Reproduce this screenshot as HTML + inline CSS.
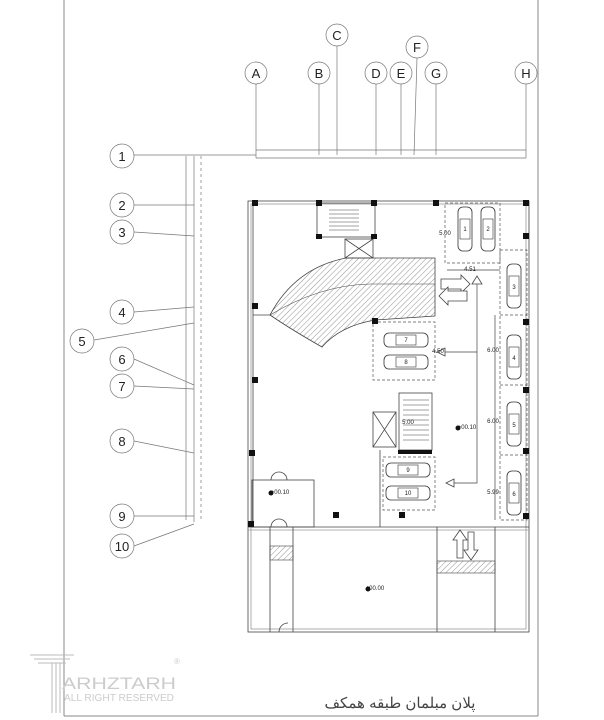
<!DOCTYPE html>
<html><head><meta charset="utf-8"><style>
html,body{margin:0;padding:0;background:#fff;}
svg{display:block;}
text{font-family:"Liberation Sans",sans-serif;}
</style></head><body>
<svg width="604" height="720" viewBox="0 0 604 720" xmlns="http://www.w3.org/2000/svg">
<defs>
<pattern id="h" width="4" height="4" patternUnits="userSpaceOnUse" patternTransform="rotate(45)">
<line x1="0" y1="0" x2="0" y2="4" stroke="#666" stroke-width="0.7"/></pattern>
<g id="carV"><rect x="-7" y="-22" width="14" height="44" rx="5" fill="#fff" stroke="#333" stroke-width="0.8"/><rect x="-5" y="-10" width="10" height="20" fill="none" stroke="#333" stroke-width="0.6"/></g>
<g id="carH"><rect x="-22" y="-7" width="44" height="14" rx="5" fill="#fff" stroke="#333" stroke-width="0.8"/><rect x="-10" y="-5" width="20" height="10" fill="none" stroke="#333" stroke-width="0.6"/></g>
</defs>
<g fill="none" stroke="#888" stroke-width="1">
<line x1="64" y1="0" x2="64" y2="716"/><line x1="538" y1="0" x2="538" y2="716"/><line x1="64" y1="716" x2="538" y2="716"/>
</g>
<g stroke="#777" stroke-width="0.7" fill="#fff">
<line x1="256" y1="84" x2="256" y2="158"/><line x1="319" y1="84" x2="319" y2="155"/><line x1="337" y1="46" x2="337" y2="155"/>
<line x1="376" y1="84" x2="376" y2="155"/><line x1="401" y1="84" x2="401" y2="155"/><line x1="417" y1="58" x2="414" y2="155"/>
<line x1="436" y1="84" x2="436" y2="155"/><line x1="526" y1="84" x2="526" y2="158"/>
<line x1="256" y1="150" x2="526" y2="150"/><line x1="256" y1="158" x2="526" y2="158"/>
<line x1="134" y1="155" x2="256" y2="155"/>
<circle cx="256" cy="73" r="11"/><circle cx="319" cy="73" r="11"/><circle cx="337" cy="35" r="11"/><circle cx="376" cy="73" r="11"/><circle cx="401" cy="73" r="11"/><circle cx="417" cy="47" r="11"/><circle cx="436" cy="73" r="11"/><circle cx="526" cy="73" r="11"/>
</g>
<g font-size="13" text-anchor="middle" fill="#222">
<text x="256" y="78">A</text><text x="319" y="78">B</text><text x="337" y="40">C</text><text x="376" y="78">D</text><text x="401" y="78">E</text><text x="417" y="52">F</text><text x="436" y="78">G</text><text x="526" y="78">H</text>
</g>
<g stroke="#777" stroke-width="0.7" fill="#fff">
<line x1="186" y1="156" x2="186" y2="520"/><line x1="194" y1="156" x2="194" y2="522"/><line x1="201" y1="156" x2="201" y2="522" stroke-dasharray="3,3"/>
<line x1="134" y1="205" x2="194" y2="205"/><line x1="134" y1="232" x2="194" y2="236"/><line x1="134" y1="312" x2="194" y2="307"/>
<line x1="94" y1="340" x2="194" y2="323"/><line x1="134" y1="359" x2="194" y2="385"/><line x1="134" y1="386" x2="194" y2="389"/>
<line x1="134" y1="441" x2="194" y2="453"/><line x1="134" y1="516" x2="194" y2="516"/><line x1="134" y1="546" x2="194" y2="524"/>
<circle cx="122" cy="156" r="12"/><circle cx="122" cy="205" r="12"/><circle cx="122" cy="232" r="12"/><circle cx="122" cy="312" r="12"/><circle cx="82" cy="341" r="12"/><circle cx="122" cy="359" r="12"/><circle cx="122" cy="386" r="12"/><circle cx="122" cy="441" r="12"/><circle cx="122" cy="516" r="12"/><circle cx="122" cy="546" r="12"/>
</g>
<g font-size="13" text-anchor="middle" fill="#222">
<text x="122" y="161">1</text><text x="122" y="210">2</text><text x="122" y="237">3</text><text x="122" y="317">4</text><text x="82" y="346">5</text><text x="122" y="364">6</text><text x="122" y="391">7</text><text x="122" y="446">8</text><text x="122" y="521">9</text><text x="122" y="551">10</text>
</g>
<g fill="none" stroke="#444" stroke-width="0.8">
<rect x="248" y="201" width="281" height="431"/>
<rect x="251" y="204" width="275" height="425" stroke="#999"/>
<line x1="253" y1="204" x2="253" y2="527"/>
<line x1="248" y1="527" x2="529" y2="527"/><line x1="248" y1="530" x2="529" y2="530" stroke="#999"/>
<line x1="270" y1="527" x2="270" y2="632"/><line x1="293" y1="527" x2="293" y2="632"/>
<line x1="437" y1="527" x2="437" y2="632"/><line x1="495" y1="527" x2="495" y2="632"/>
<rect x="317" y="203" width="58" height="34"/>
<rect x="345" y="239" width="28" height="19"/>
<line x1="345" y1="239" x2="373" y2="258"/><line x1="373" y1="239" x2="345" y2="258"/>
<rect x="252" y="480" width="62" height="47"/>
<path d="M271 480a8 8 0 0 1 8 -8M287 480a8 8 0 0 0 -8 -8M271 527a8 8 0 0 1 8 -8M287 527a8 8 0 0 0 -8 -8M279 632a9 9 0 0 1 9 -9"/>
<rect x="373" y="412" width="23" height="35"/><line x1="373" y1="412" x2="396" y2="447"/><line x1="396" y1="412" x2="373" y2="447"/>
<rect x="399" y="393" width="33" height="57"/>
<line x1="380" y1="450" x2="380" y2="527"/>
<line x1="253" y1="315" x2="270" y2="315"/>
</g>
<g stroke="#444" stroke-width="0.6">
<path d="M329 210h30M329 214h30M329 218h30M329 222h30M329 226h30M329 230h30"/>
<path d="M403 400h26M403 405h26M403 410h26M403 415h26M403 420h26M403 425h26M403 430h26M403 435h26M403 440h26"/>
</g>
<rect x="398" y="450" width="34" height="4" fill="#111"/>
<path d="M346 258 L435 258 L435 316 L375 320 Q340 326 322 347 Q292 330 270 315 Q295 268 346 258 Z" fill="url(#h)" stroke="#444" stroke-width="0.8"/>
<path d="M270 315 Q320 285 370 284 L435 284" fill="none" stroke="#444" stroke-width="0.6"/>
<rect x="270" y="546" width="23" height="14" fill="url(#h)" stroke="#444" stroke-width="0.6"/>
<rect x="437" y="561" width="58" height="12" fill="url(#h)" stroke="#444" stroke-width="0.6"/>
<g fill="#fff" stroke="#444" stroke-width="0.8">
<path d="M441 279h20v-4l9 9l-9 9v-4h-20z"/>
<path d="M467 291h-19v-4l-9 9l9 9v-4h19z"/>
<path d="M457 558v-18h-4l7-10l7 10h-4v18z"/>
<path d="M468 532v18h-4l7 10l7-10h-4v-18z"/>
<path d="M472 284l5-8l5 8z"/>
<path d="M437 352l8-4v8z"/><path d="M446 483l8-4v8z"/>
</g>
<g stroke="#444" stroke-width="0.7" fill="none">
<path d="M477 284V415"/><path d="M445 352h32"/><path d="M477 415V483h-23"/>
<line x1="447" y1="270" x2="500" y2="270"/>
<line x1="495" y1="315" x2="495" y2="520"/>
</g>
<g fill="none" stroke="#555" stroke-width="0.7" stroke-dasharray="3,2">
<rect x="445" y="203" width="55" height="60"/>
<rect x="500" y="250" width="27" height="270"/>
<line x1="500" y1="315" x2="527" y2="315"/><line x1="500" y1="385" x2="527" y2="385"/><line x1="500" y1="455" x2="527" y2="455"/>
<rect x="373" y="322" width="62" height="58"/>
<rect x="383" y="457" width="52" height="53"/>
</g>
<use href="#carV" x="465" y="229"/><use href="#carV" x="488" y="229"/>
<use href="#carV" x="514" y="286"/><use href="#carV" x="514" y="357"/><use href="#carV" x="514" y="424"/><use href="#carV" x="514" y="493"/>
<use href="#carH" x="406" y="340"/><use href="#carH" x="406" y="362"/>
<use href="#carH" x="408" y="470"/><use href="#carH" x="408" y="493"/>
<g font-size="6" text-anchor="middle" fill="#222">
<text x="465" y="231">1</text><text x="488" y="231">2</text><text x="514" y="289">3</text><text x="514" y="360">4</text><text x="514" y="427">5</text><text x="514" y="496">6</text>
<text x="406" y="342">7</text><text x="406" y="364">8</text><text x="408" y="472">9</text><text x="408" y="495">10</text>
<text x="445" y="235">5.00</text><text x="470" y="271">4.51</text><text x="438" y="353">4.50</text>
<text x="493" y="352">6.00</text><text x="493" y="423">6.00</text><text x="493" y="494">5.99</text><text x="408" y="424">5.00</text>
<text x="467" y="429">+00.10</text><text x="280" y="494">+00.10</text><text x="375" y="590">±00.00</text>
</g>
<g fill="#111"><circle cx="458" cy="428" r="2.5"/><circle cx="271" cy="493" r="2.5"/><circle cx="368" cy="589" r="2.5"/></g>
<g fill="#111">
<rect x="252" y="200" width="6" height="6"/><rect x="316" y="200" width="6" height="6"/><rect x="371" y="200" width="6" height="6"/><rect x="433" y="200" width="6" height="6"/><rect x="523" y="200" width="6" height="6"/>
<rect x="316" y="234" width="6" height="5"/><rect x="371" y="234" width="6" height="5"/><rect x="523" y="233" width="6" height="6"/>
<rect x="252" y="303" width="6" height="6"/><rect x="372" y="318" width="6" height="6"/><rect x="523" y="319" width="6" height="6"/>
<rect x="252" y="377" width="6" height="6"/><rect x="523" y="387" width="6" height="6"/>
<rect x="249" y="450" width="6" height="6"/><rect x="523" y="448" width="6" height="6"/>
<rect x="248" y="521" width="6" height="6"/><rect x="333" y="512" width="6" height="6"/><rect x="399" y="512" width="6" height="6"/><rect x="523" y="513" width="6" height="6"/>
</g>
<g stroke="#bbb" fill="none" stroke-width="1">
<path d="M30 655h44M34 659h36M38 663h28"/><path d="M52 663v50M56 663v50M60 663v50"/>
</g>
<text x="62" y="689" font-size="17" fill="#ccc" textLength="114" lengthAdjust="spacingAndGlyphs">ARHZTARH</text>
<text x="64" y="701" font-size="10" fill="#ccc" textLength="110" lengthAdjust="spacingAndGlyphs">ALL RIGHT RESERVED</text>
<text x="174" y="664" font-size="8" fill="#ccc">®</text>
<text x="400" y="708" font-size="15" fill="#444" text-anchor="middle" font-family="'Liberation Sans','DejaVu Sans',sans-serif">پلان مبلمان طبقه همکف</text>
</svg>
</body></html>
